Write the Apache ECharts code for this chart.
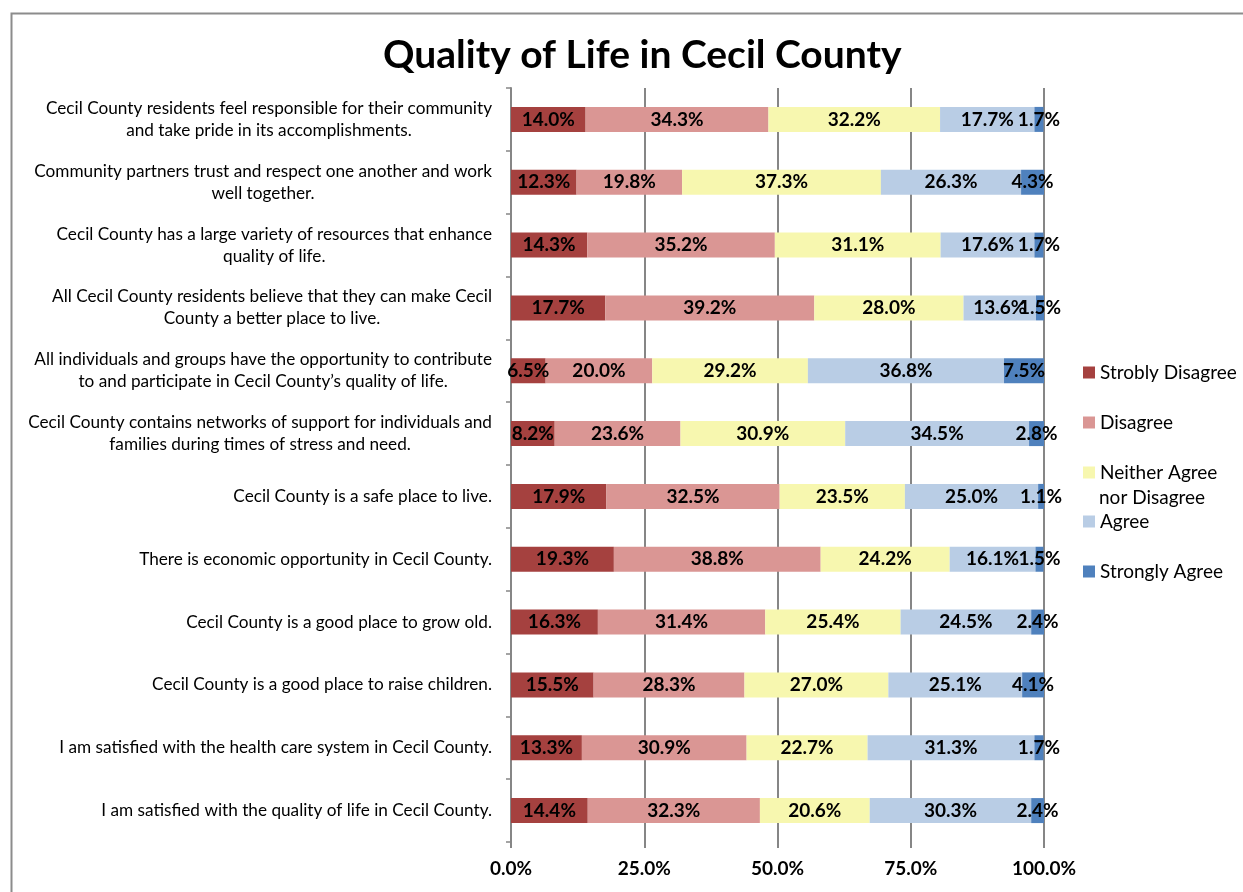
<!DOCTYPE html>
<html>
<head>
<meta charset="utf-8">
<script src="https://cdn.jsdelivr.net/npm/echarts@6/dist/echarts.min.js"></script>
<style>html,body{margin:0;padding:0;background:#fff;}#c{width:1243px;height:892px;}</style>
</head>
<body>
<div id="c"></div>
<script>
const categories = [
  "Cecil County residents feel responsible for their community\nand take pride in its accomplishments.",
  "Community partners trust and respect one another and work\nwell together.",
  "Cecil County has a large variety of resources that enhance\nquality of life.",
  "All Cecil County residents believe that they can make Cecil\nCounty a better place to live.",
  "All individuals and groups have the opportunity to contribute\nto and participate in Cecil County\u2019s quality of life.",
  "Cecil County contains networks of support for individuals and\nfamilies during times of stress and need.",
  "Cecil County is a safe place to live.",
  "There is economic opportunity in Cecil County.",
  "Cecil County is a good place to grow old.",
  "Cecil County is a good place to raise children.",
  "I am satisfied with the health care system in Cecil County.",
  "I am satisfied with the quality of life in Cecil County."
];
const seriesNames = ["Strobly Disagree", "Disagree", "Neither Agree nor Disagree", "Agree", "Strongly Agree"];
const stronglyDisagree = [14.0, 12.3, 14.3, 17.7, 6.5, 8.2, 17.9, 19.3, 16.3, 15.5, 13.3, 14.4];
const disagree         = [34.3, 19.8, 35.2, 39.2, 20.0, 23.6, 32.5, 38.8, 31.4, 28.3, 30.9, 32.3];
const neither          = [32.2, 37.3, 31.1, 28.0, 29.2, 30.9, 23.5, 24.2, 25.4, 27.0, 22.7, 20.6];
const agree            = [17.7, 26.3, 17.6, 13.6, 36.8, 34.5, 25.0, 16.1, 24.5, 25.1, 31.3, 30.3];
const stronglyAgree    = [1.7, 4.3, 1.7, 1.5, 7.5, 2.8, 1.1, 1.5, 2.4, 4.1, 1.7, 2.4];
const xTicks = [0, 25, 50, 75, 100];

const colors = ["#A5413F", "#DA9694", "#F7F7AF", "#B9CDE5", "#4F81BD"];
const allData = [stronglyDisagree, disagree, neither, agree, stronglyAgree];
const FONT = "Lato, 'Open Sans', sans-serif";

const chart = echarts.init(document.getElementById('c'));
const legendTops = [358, 408, 458, 507, 557];
const option = {
  animation: false,
  backgroundColor: '#fff',
  title: {
    text: 'Quality of Life in Cecil County',
    left: 378, top: 31,
    textStyle: { fontFamily: FONT, fontSize: 39, fontWeight: 'bold', color: '#000' }
  },
  graphic: [
    { type: 'rect', left: 9, top: 11, shape: { width: 1300, height: 1000 }, style: { fill: 'none', stroke: '#8c8c8c', lineWidth: 2 }, silent: true, z: -1 },
    { type: 'text', left: 1099, top: 488, style: { text: 'nor Disagree', fontFamily: FONT, fontSize: 19, fill: '#000' } }
  ],
  legend: seriesNames.map((n, i) => ({
    data: [n], left: 1078, top: legendTops[i], orient: 'vertical',
    icon: 'rect', itemWidth: 12, itemHeight: 12, itemGap: 6,
    formatter: nm => nm === 'Neither Agree nor Disagree' ? 'Neither Agree' : nm,
    textStyle: { fontFamily: FONT, fontSize: 19, color: '#000' },
    selectedMode: false
  })),
  grid: { left: 511, right: 199, top: 88, bottom: 50, containLabel: false },
  xAxis: {
    type: 'value', min: xTicks[0], max: xTicks[xTicks.length - 1], interval: 25,
    axisLine: { show: false },
    axisTick: { show: true, length: 6, lineStyle: { color: '#868686', width: 2 } },
    splitLine: { show: true, lineStyle: { color: '#868686', width: 2 } },
    axisLabel: { formatter: v => v.toFixed(1) + '%', fontFamily: FONT, fontSize: 19, fontWeight: 'bold', color: '#000', margin: 17 }
  },
  yAxis: {
    type: 'category', data: categories, inverse: true,
    axisLine: { show: true, lineStyle: { color: '#868686', width: 2 } },
    axisTick: { show: true, length: 5, lineStyle: { color: '#868686', width: 1.5 } },
    axisLabel: {
      align: 'right', margin: 19, color: '#000',
      formatter: v => v.split('\n').map(l => '{c|' + l + '}').join('\n'),
      rich: { c: { align: 'center', fontFamily: FONT, fontSize: 17.2, lineHeight: 22, color: '#000' } }
    }
  },
  series: seriesNames.map((n, i) => ({
    name: n, type: 'bar', stack: 'total', barWidth: 25,
    itemStyle: { color: colors[i] },
    label: {
      show: true, position: 'inside', formatter: p => p.value.toFixed(1) + '%',
      fontFamily: FONT, fontSize: 19, fontWeight: 'bold', color: '#000'
    },
    data: allData[i]
  }))
};
chart.setOption(option);
</script>
</body>
</html>
